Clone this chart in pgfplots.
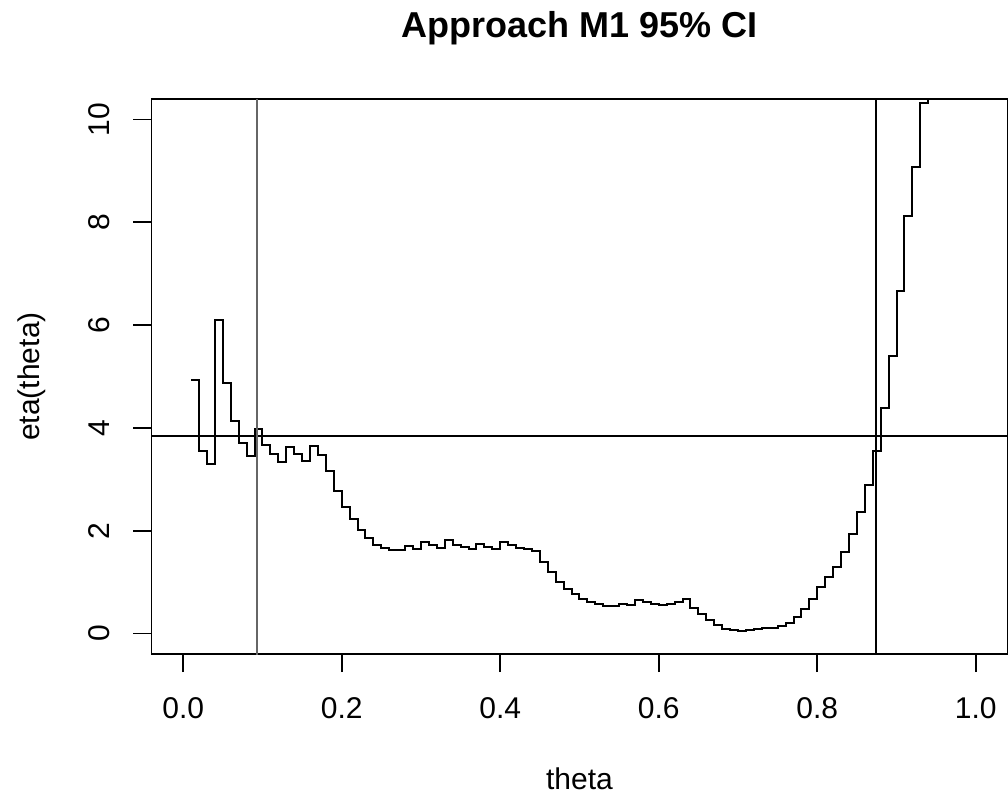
\documentclass[border=0pt]{standalone}
\usepackage{fontspec}
\setmainfont{Liberation Sans}
\usepackage{pgfplots}
\usepackage{pgfplotstable}
\pgfplotsset{compat=1.18}

% eta(theta)
\pgfplotstableread{
theta eta
0.01 4.93
0.02 3.55
0.03 3.29
0.04 6.09
0.05 4.87
0.06 4.13
0.07 3.70
0.08 3.45
0.09 3.97
0.10 3.66
0.11 3.49
0.12 3.34
0.13 3.63
0.14 3.49
0.15 3.36
0.16 3.65
0.17 3.48
0.18 3.16
0.19 2.77
0.20 2.46
0.21 2.22
0.22 2.01
0.23 1.85
0.24 1.73
0.25 1.67
0.26 1.63
0.27 1.63
0.28 1.70
0.29 1.65
0.30 1.78
0.31 1.72
0.32 1.66
0.33 1.81
0.34 1.73
0.35 1.68
0.36 1.64
0.37 1.75
0.38 1.68
0.39 1.64
0.40 1.78
0.41 1.72
0.42 1.67
0.43 1.64
0.44 1.60
0.45 1.39
0.46 1.19
0.47 1.00
0.48 0.87
0.49 0.76
0.50 0.68
0.51 0.61
0.52 0.57
0.53 0.54
0.54 0.54
0.55 0.58
0.56 0.56
0.57 0.66
0.58 0.61
0.59 0.57
0.60 0.55
0.61 0.57
0.62 0.61
0.63 0.67
0.64 0.50
0.65 0.37
0.66 0.27
0.67 0.17
0.68 0.09
0.69 0.06
0.70 0.04
0.71 0.06
0.72 0.09
0.73 0.10
0.74 0.10
0.75 0.14
0.76 0.21
0.77 0.32
0.78 0.47
0.79 0.68
0.80 0.91
0.81 1.10
0.82 1.29
0.83 1.58
0.84 1.93
0.85 2.36
0.86 2.89
0.87 3.55
0.88 4.38
0.89 5.39
0.90 6.67
0.91 8.12
0.92 9.08
0.93 10.33
0.94 12.00
}\etadata

\begin{document}
\begin{tikzpicture}
\useasboundingbox (-75.75pt,-73pt) rectangle (428.25pt,327pt);
\begin{axis}[
    at={(0,0)}, anchor=south west,
    scale only axis,
    width=428pt, height=277.5pt,
    xmin=-0.04, xmax=1.04,
    ymin=-0.4, ymax=10.4,
    xtick={0,0.2,0.4,0.6,0.8,1.0},
    ytick={0,2,4,6,8,10},
    xtick pos=left, ytick pos=left,
    tick align=outside,
    major tick length=9pt,
    tick style={black, line width=0.9pt},
    axis line style={black, line width=0.9pt},
    tick label style={font=\fontsize{15}{18}\selectfont},
    /pgf/number format/assume math mode=true,
    xticklabel style={anchor=north, inner sep=0pt,
        /pgf/number format/.cd, fixed, fixed zerofill, precision=1},
    yticklabel style={rotate=90, anchor=base, inner sep=0pt},
    xticklabel shift=12.5pt,
    yticklabel shift=12pt,
    title={Approach M1 95\% CI},
    title style={at={(axis description cs:0.5,1.0883)}, anchor=base,
        inner sep=0pt, font=\bfseries\fontsize{18}{21}\selectfont},
    xlabel={theta},
    xlabel style={at={(axis description cs:0.5,-0.2450)}, anchor=base,
        inner sep=0pt, font=\fontsize{15}{18}\selectfont},
    ylabel={eta(theta)},
    ylabel style={at={(axis description cs:-0.1308,0.5)}, rotate=0, anchor=base,
        inner sep=0pt, font=\fontsize{15}{18}\selectfont},
]
\addplot[const plot, black, line width=1pt] table[x=theta, y=eta] {\etadata};
\addplot[black, line width=1pt] coordinates {(-0.1,3.84) (1.1,3.84)};
\addplot[black!60, line width=1pt] coordinates {(0.093,-1) (0.093,11)};
\addplot[black, line width=1pt] coordinates {(0.8735,-1) (0.8735,11)};
\end{axis}
\end{tikzpicture}
\end{document}
